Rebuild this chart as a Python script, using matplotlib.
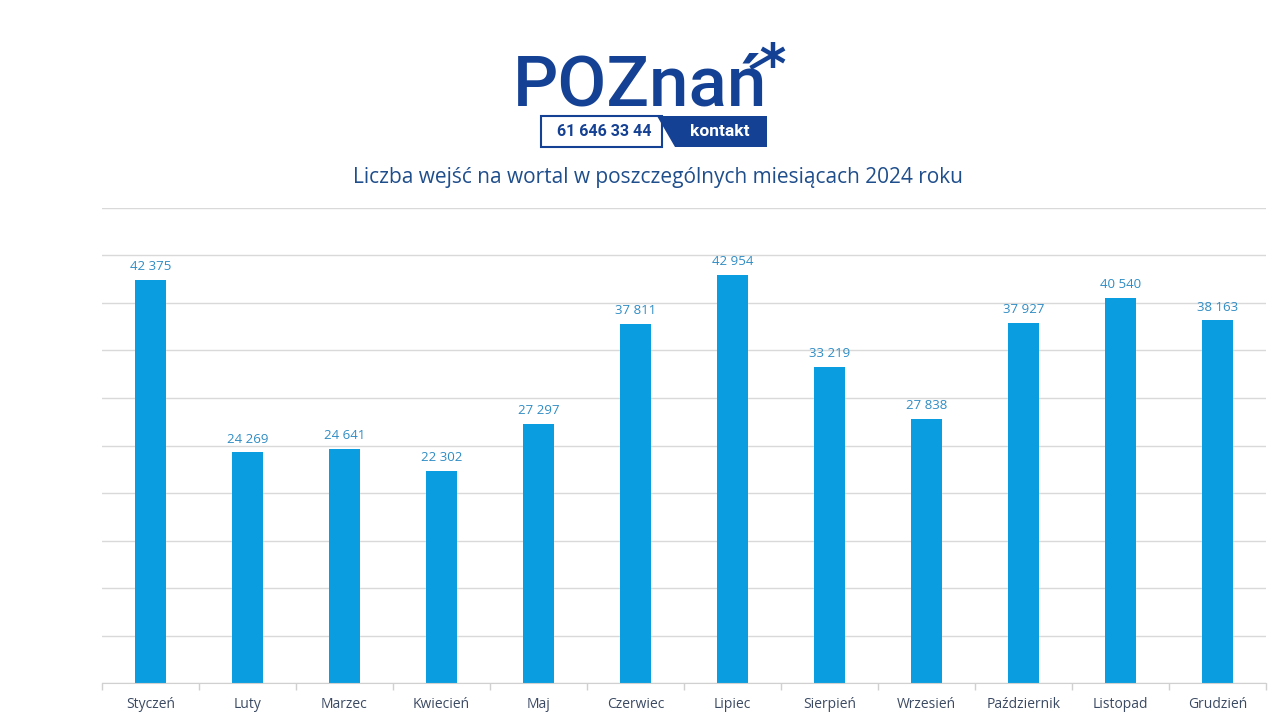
import matplotlib
matplotlib.use("Agg")
import matplotlib.pyplot as plt
import numpy as np
from matplotlib.patches import Rectangle, Polygon

months = ["Styczeń", "Luty", "Marzec", "Kwiecień", "Maj", "Czerwiec", "Lipiec",
          "Sierpień", "Wrzesień", "Październik", "Listopad", "Grudzień"]
visits = [42375, 24269, 24641, 22302, 27297, 37811, 42954, 33219, 27838, 37927, 40540, 38163]
title = "Liczba wejść na wortal w poszczególnych miesiącach 2024 roku"
phone = "61 646 33 44"
contact = "kontakt"
logo_word = "POZnań"

W, H = 1280, 720
fig = plt.figure(figsize=(12.8, 7.2), dpi=100)
fig.patch.set_facecolor("white")

def fx(px):
    return px / W

def fy(py):
    return 1 - py / H

ax = fig.add_axes([fx(102), fy(683), fx(1266) - fx(102), fy(208) - fy(683)])
x = np.arange(len(months))
bar_color = "#0a9ddf"
bars = ax.bar(x, visits, width=0.31, color=bar_color, zorder=3)
ax.set_xlim(-0.5, len(months) - 0.5)
ax.set_ylim(0, 50000)
ax.set_yticks(np.arange(0, 50001, 5000))
ax.yaxis.grid(True, color="#d9d9d9", linewidth=1, zorder=0)
ax.tick_params(axis="y", length=0, labelleft=False)
for s in ["top", "right", "left"]:
    ax.spines[s].set_visible(False)
ax.spines["bottom"].set_color("#d0d0d0")
ax.spines["bottom"].set_zorder(4)

ax.set_xticks(np.arange(-0.5, len(months) + 0.5, 1.0))
ax.set_xticklabels([])
ax.tick_params(axis="x", which="major", length=5, color="#d0d0d0", width=1)
ax.set_xticks(x, minor=True)
ax.set_xticklabels(months, minor=True, fontsize=10, color="#3b4a63", family="Open Sans")
ax.tick_params(axis="x", which="minor", length=0, pad=10)

for xi, v in zip(x, visits):
    ax.annotate(f"{v:,}".replace(",", " "), (xi, v), xytext=(0, 5), textcoords="offset points",
                ha="center", va="bottom", fontsize=9.5, color="#2f8cc4", family="Open Sans")

# Title
fig.text(fx(658), fy(177), title, ha="center", va="center", fontsize=15,
         color="#1f4e8c", family="Open Sans")

# Logo
logo_color = "#154194"
fig.text(fx(513), fy(105), logo_word, ha="left", va="baseline", fontsize=51,
         color=logo_color, family="Roboto", weight="medium")
# asterisk
cx, cy = 773, 55
for ang, ln in [(90, 13), (30, 13), (-30, 13), (-90, 13), (150, 13), (210, 26)]:
    a = np.deg2rad(ang)
    fig.add_artist(plt.Line2D([fx(cx), fx(cx + ln * np.cos(a))],
                              [fy(cy), fy(cy - ln * np.sin(a))],
                              color=logo_color, linewidth=3.2, solid_capstyle="butt"))
# phone box
fig.add_artist(Rectangle((fx(541), fy(147)), fx(662) - fx(541), fy(116) - fy(147),
                         facecolor="white", edgecolor=logo_color, linewidth=1.5,
                         transform=fig.transFigure))
fig.add_artist(Polygon([(fx(657), fy(116)), (fx(767), fy(116)), (fx(767), fy(147)), (fx(675), fy(147))],
                       closed=True, facecolor=logo_color, edgecolor="none",
                       transform=fig.transFigure))
fig.text(fx(604), fy(132), phone, ha="center", va="center", fontsize=11.5,
         color=logo_color, family="Roboto", weight="bold")
fig.text(fx(720), fy(131), contact, ha="center", va="center", fontsize=12.5,
         color="white", family="Roboto", weight="bold")

fig.savefig("out.png", dpi=100, facecolor="white")
